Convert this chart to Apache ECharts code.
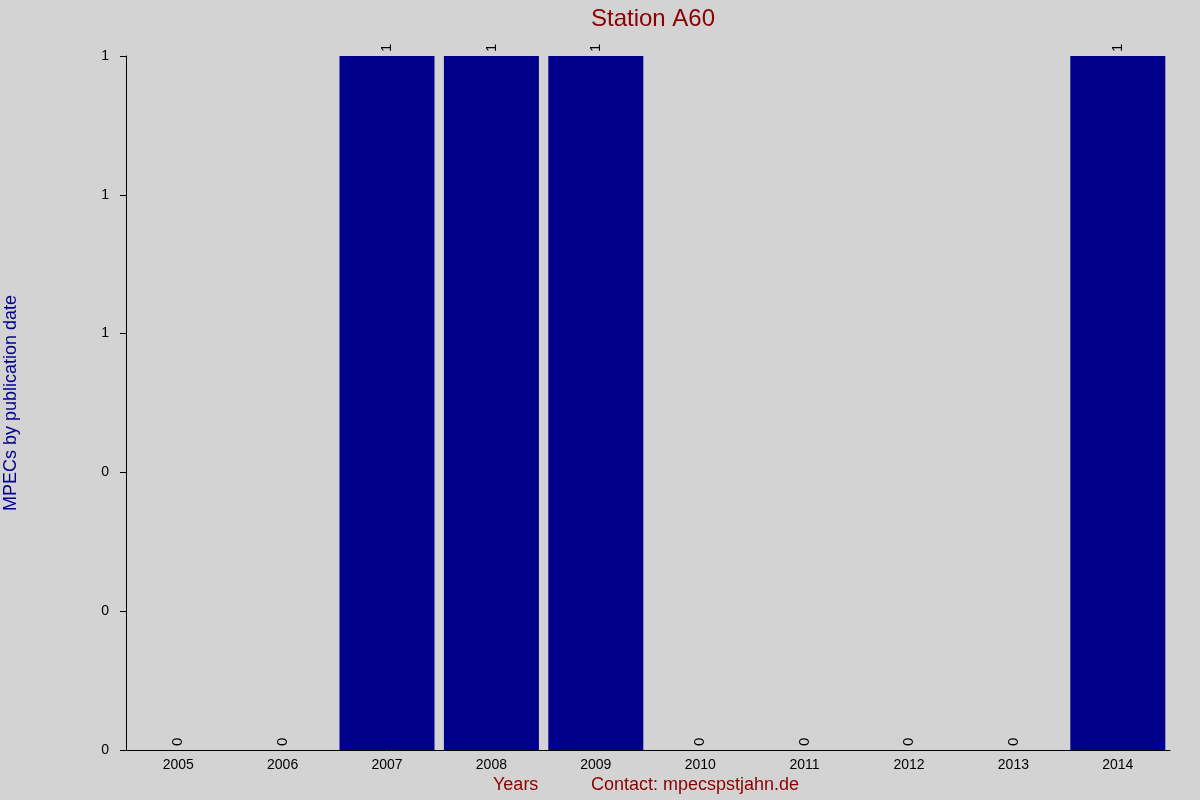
<!DOCTYPE html>
<html><head><meta charset="utf-8">
<script src="https://cdn.jsdelivr.net/npm/echarts@6/dist/echarts.min.js"></script>
<style>html,body{margin:0;background:#d3d3d3}#c{width:1200px;height:800px}</style>
</head><body><div id="c"></div>
<script>
const categories = ['2005','2006','2007','2008','2009','2010','2011','2012','2013','2014'];
const values = [0,0,1,1,1,0,0,0,0,1];
const chart = echarts.init(document.getElementById('c'));
chart.setOption({
  backgroundColor:'#d3d3d3',
  animation:false,
  title:{text:'Station A60',left:648,textAlign:'center',top:2,textStyle:{color:'#8b0000',fontSize:24,fontWeight:'normal',fontFamily:'Liberation Sans'}},
  grid:{left:126,right:30,top:56,bottom:50},
  xAxis:{type:'category',data:categories,
    axisLine:{lineStyle:{color:'#000'}},axisTick:{show:false},
    axisLabel:{color:'#000',fontSize:14,fontFamily:'Liberation Sans',margin:8}},
  yAxis:{type:'value',min:0,max:1,interval:0.2,
    axisLine:{show:true,lineStyle:{color:'#000'}},axisTick:{show:true,length:6,lineStyle:{color:'#000'}},
    splitLine:{show:false},
    axisLabel:{color:'#000',fontSize:14,fontFamily:'Liberation Sans',margin:17,formatter:v=>Math.round(v)}},
  graphic:[
    {type:'text',left:493,top:776,style:{text:'Years',fill:'#8b0000',font:'18px Liberation Sans'}},
    {type:'text',left:591,top:776,style:{text:'Contact: mpecspstjahn.de',fill:'#8b0000',font:'18px Liberation Sans'}},
    {type:'text',x:20,y:403,rotation:Math.PI/2,style:{text:'MPECs by publication date',fill:'#00008b',font:'18px Liberation Sans',align:'center',verticalAlign:'bottom'}}
  ],
  series:[{type:'bar',data:values,barCategoryGap:'9%',itemStyle:{color:'#00008b'},
    label:{show:true,position:'top',rotate:90,align:'left',verticalAlign:'middle',distance:4,color:'#000',fontSize:15,fontFamily:'Liberation Sans'}}]
});
</script></body></html>
